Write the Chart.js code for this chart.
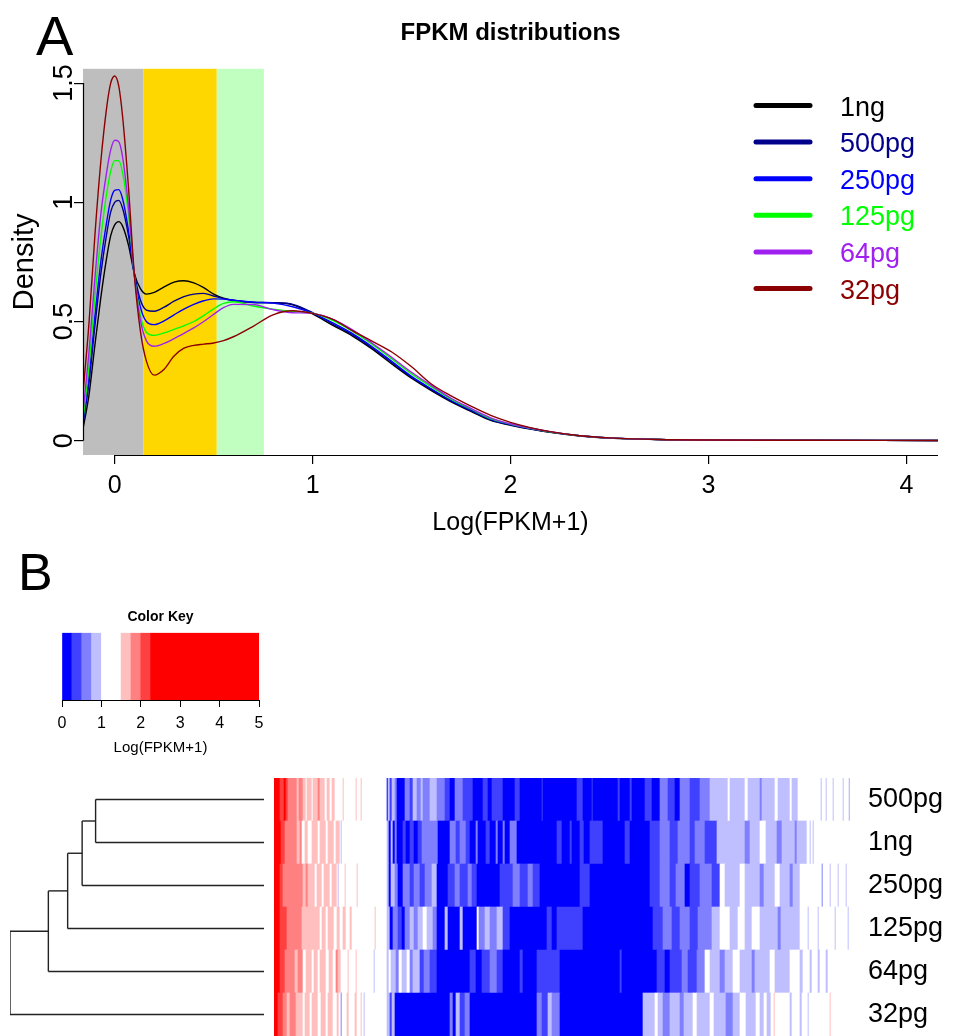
<!DOCTYPE html>
<html>
<head>
<meta charset="utf-8">
<title>FPKM distributions</title>
<script src="https://cdn.jsdelivr.net/npm/chart.js@4.4.1/dist/chart.umd.min.js"></script>
<style>
  html, body { margin: 0; padding: 0; background: #fff; }
  body { width: 957px; height: 1036px; position: relative; overflow: hidden; font-family: "Liberation Sans", Arial, Helvetica, sans-serif; }
  .box { position: absolute; }
  .tag { position: absolute; line-height: 1; color: #000; }
</style>
</head>
<body>
<div class="tag" style="left:36px; top:8px; font-size:56px;">A</div>
<div class="tag" style="left:18px; top:546px; font-size:52px;">B</div>
<div class="box" style="left:0; top:0; width:957px; height:560px;"><canvas id="densityChart"></canvas></div>
<div class="box" style="left:40px; top:605px; width:240px; height:153px;"><canvas id="keyChart"></canvas></div>
<div class="box" style="left:0; top:778px; width:274px; height:258px;"><canvas id="dendroChart"></canvas></div>
<div class="box" style="left:274px; top:778px; width:683px; height:258px;"><canvas id="heatChart"></canvas></div>

<script>
// ---- panel A: density curves ----
const xGrid = [-0.16, -0.13, -0.10, -0.07, -0.04, -0.02, 0, 0.02, 0.04, 0.07, 0.10, 0.13, 0.16, 0.20, 0.25, 0.30, 0.35, 0.40, 0.45, 0.50, 0.55, 0.60, 0.70, 0.80, 0.90, 1.00, 1.10, 1.20, 1.30, 1.40, 1.50, 1.60, 1.70, 1.80, 1.90, 2.00, 2.10, 2.20, 2.35, 2.50, 2.75, 3.00, 3.50, 4.16];

const dens1ng   = [0.05, 0.19, 0.40, 0.60, 0.77, 0.86, 0.905, 0.919, 0.90, 0.82, 0.70, 0.638, 0.615, 0.622, 0.645, 0.665, 0.671, 0.662, 0.642, 0.615, 0.598, 0.588, 0.580, 0.578, 0.570, 0.532, 0.485, 0.44, 0.385, 0.322, 0.262, 0.21, 0.163, 0.123, 0.085, 0.065, 0.049, 0.035, 0.02, 0.011, 0.005, 0.003, 0.002, 0.001];
const dens500pg = [0.07, 0.24, 0.48, 0.70, 0.87, 0.96, 1.0, 1.008, 0.975, 0.86, 0.70, 0.59, 0.548, 0.543, 0.56, 0.585, 0.604, 0.615, 0.618, 0.607, 0.596, 0.589, 0.581, 0.579, 0.572, 0.537, 0.49, 0.445, 0.39, 0.328, 0.266, 0.214, 0.166, 0.126, 0.088, 0.067, 0.05, 0.036, 0.021, 0.012, 0.005, 0.003, 0.002, 0.001];
const dens250pg = [0.08, 0.27, 0.52, 0.75, 0.92, 1.01, 1.05, 1.053, 1.015, 0.88, 0.69, 0.56, 0.50, 0.487, 0.503, 0.528, 0.552, 0.572, 0.587, 0.595, 0.594, 0.589, 0.581, 0.577, 0.562, 0.535, 0.495, 0.45, 0.395, 0.333, 0.27, 0.218, 0.169, 0.129, 0.09, 0.068, 0.051, 0.037, 0.021, 0.012, 0.005, 0.003, 0.002, 0.001];
const dens125pg = [0.09, 0.31, 0.60, 0.85, 1.04, 1.13, 1.175, 1.175, 1.125, 0.95, 0.69, 0.525, 0.455, 0.442, 0.452, 0.467, 0.482, 0.50, 0.525, 0.553, 0.576, 0.583, 0.565, 0.552, 0.542, 0.535, 0.505, 0.46, 0.405, 0.343, 0.28, 0.226, 0.174, 0.133, 0.093, 0.07, 0.052, 0.037, 0.021, 0.012, 0.005, 0.003, 0.002, 0.001];
const dens64pg  = [0.12, 0.37, 0.68, 0.95, 1.13, 1.22, 1.26, 1.255, 1.19, 0.98, 0.69, 0.505, 0.42, 0.396, 0.408, 0.428, 0.45, 0.473, 0.50, 0.53, 0.558, 0.572, 0.571, 0.55, 0.537, 0.534, 0.51, 0.466, 0.41, 0.35, 0.287, 0.232, 0.178, 0.136, 0.096, 0.071, 0.053, 0.038, 0.021, 0.012, 0.005, 0.003, 0.002, 0.001];
const dens32pg  = [0.20, 0.49, 0.86, 1.17, 1.40, 1.50, 1.53, 1.49, 1.36, 1.06, 0.69, 0.46, 0.335, 0.275, 0.30, 0.355, 0.388, 0.40, 0.405, 0.41, 0.42, 0.436, 0.48, 0.528, 0.545, 0.534, 0.51, 0.462, 0.418, 0.372, 0.31, 0.238, 0.188, 0.145, 0.106, 0.077, 0.055, 0.038, 0.021, 0.012, 0.005, 0.003, 0.002, 0.001];

const sampleNames = ['1ng', '500pg', '250pg', '125pg', '64pg', '32pg'];
const sampleColors = ['#000000', '#00008B', '#0000FF', '#00FF00', '#A020F0', '#8B0000'];
const densities = [dens1ng, dens500pg, dens250pg, dens125pg, dens64pg, dens32pg];

const xRange = [0, 4];
const yRange = [0, 1.5];
const xTicks = [0, 1, 2, 3, 4];
const yTicks = [0, 0.5, 1, 1.5];

// shaded expression classes (upper edges on the Log(FPKM+1) axis)
const bandEdges = [0.146, 0.516, 0.754];
const bandColors = ['#BEBEBE', '#FFD700', '#C1FFC1'];

// ---- panel B: colour key, dendrogram, heatmap ----
const keyBreaks = [0, 0.25, 0.5, 0.75, 1, 1.5, 1.75, 2, 2.25, 5];
const keyColors = ['#0000FF', '#4040FF', '#8080FF', '#BFBFFF', '#FFFFFF', '#FFBFBF', '#FF8080', '#FF4040', '#FF0000'];
const keyTicks = [0, 1, 2, 3, 4, 5];

const rowNames = ['500pg', '1ng', '250pg', '125pg', '64pg', '32pg'];
// merge heights, top-down agglomeration of the row order above
const dendroHeights = [0.663, 0.716, 0.773, 0.849, 1.0];
const nGenes = 576;

// runs of [Log(FPKM+1), number of genes], genes ordered left to right
const row500pg = [[3,6],[2.1,4],[3,2],[2.1,2],[1.9,9],[1.6,2],[1.9,4],[1.6,3],[1.2,1],[1.6,5],[1.2,1],[1.6,5],[1.9,2],[1.6,5],[1.2,2],[1.6,3],[1.2,2],[1.6,3],[1.2,8],[1.6,1],[1.2,12],[1.6,1],[1.2,4],[1.6,1],[1.2,25],
  [0.1,1],[0.9,2],[0.4,2],[0.9,3],[0.6,2],[0.1,8],[0.6,5],[0.4,3],[0.9,4],[0.6,4],[0.9,2],[0.6,7],[0.9,7],[0.6,8],[0.4,5],[0.1,5],[0.6,8],[0.4,10],[0.1,10],[0.4,5],[0.1,4],[0.4,11],[0.1,12],[0.4,5],[0.1,22],[0.4,1],[0.1,34],[0.4,6],[0.1,9],[0.4,1],[0.1,25],[0.4,2],[0.1,10],[0.4,2],[0.1,13],[0.4,7],[0.1,8],[0.6,8],[0.4,7],[0.1,5],[0.6,10],[0.4,10],[0.6,10],[0.9,18],[1.2,2],[0.9,15],[1.2,3],[0.9,12],[0.6,2],[0.9,13],[1.2,3],[0.9,12],[1.2,2],[0.9,6],[1.2,23],[0.9,1],[1.2,4],[0.9,1],[1.2,6],[0.9,1],[1.2,9],[0.9,1],[1.2,5],[0.9,1]];
const row1ng = [[3,7],[2.1,4],[1.9,12],[1.6,3],[1.9,2],[1.2,3],[1.6,3],[1.2,4],[1.6,6],[1.2,2],[1.6,6],[1.2,2],[1.6,6],[1.2,2],[1.6,4],[1.2,1],[0.9,1],[1.2,45],
  [0.9,2],[0.1,2],[0.9,2],[0.1,2],[0.6,2],[0.1,6],[0.4,3],[0.1,4],[0.4,4],[0.1,4],[0.4,4],[0.6,16],[0.1,12],[0.6,6],[0.4,4],[0.6,6],[0.4,4],[0.1,6],[0.6,2],[0.1,8],[0.4,4],[0.1,6],[0.6,2],[0.1,5],[0.6,2],[0.1,5],[0.6,7],[0.1,40],[0.4,5],[0.1,8],[0.4,2],[0.1,8],[0.4,4],[0.1,6],[0.4,13],[0.1,22],[0.4,5],[0.1,20],[0.4,10],[0.6,10],[0.4,8],[0.6,12],[0.4,5],[0.6,10],[0.4,12],[0.9,28],[0.6,5],[0.9,10],[1.2,6],[0.9,11],[0.6,5],[0.9,13],[0.6,2],[0.9,10],[1.2,3],[0.9,1],[1.2,2],[0.9,1],[1.2,36]];
const row250pg = [[3,6],[2.1,3],[1.9,20],[1.6,3],[1.9,2],[1.6,7],[1.2,2],[1.6,5],[1.2,2],[1.6,6],[1.2,2],[1.6,5],[1.2,1],[0.9,1],[1.2,6],[1.6,1],[1.2,11],[1.6,1],[1.2,29],
  [0.9,2],[0.1,2],[0.9,4],[0.6,3],[0.1,5],[0.6,7],[0.4,4],[0.6,6],[0.4,5],[0.6,7],[0.9,5],[0.1,11],[0.4,7],[0.6,5],[0.4,8],[0.6,4],[0.4,5],[0.1,23],[0.4,13],[0.6,7],[0.4,8],[0.6,5],[0.4,7],[0.1,40],[0.4,10],[0.1,60],[0.4,10],[0.6,10],[0.4,6],[0.6,9],[0.1,5],[0.4,10],[0.6,12],[0.4,8],[1.2,5],[0.9,15],[1.2,5],[0.9,15],[0.6,4],[0.9,11],[1.2,5],[0.9,10],[0.6,3],[0.9,7],[1.2,22],[0.6,1],[1.2,7],[0.9,1],[1.2,7],[0.9,1],[1.2,7],[0.9,1],[1.2,3]];
const row125pg = [[3,6],[2.1,7],[1.9,15],[1.6,18],[1.2,2],[1.6,4],[1.2,2],[1.6,6],[1.2,3],[1.6,3],[1.2,3],[1.6,3],[1.2,4],[1.6,2],[1.2,23],[1.6,1],[1.2,11],
  [0.9,3],[0.1,3],[0.6,5],[0.4,4],[0.1,3],[0.6,5],[0.9,4],[0.6,4],[0.9,5],[1.2,4],[0.9,6],[0.6,4],[0.1,8],[0.9,3],[0.1,12],[0.9,3],[0.1,14],[1.2,2],[0.6,6],[0.9,5],[0.6,7],[0.9,6],[0.4,7],[0.1,37],[0.4,5],[0.1,5],[0.4,26],[0.1,70],[0.4,10],[0.6,9],[0.4,8],[0.6,10],[0.4,8],[0.6,14],[0.9,8],[1.2,10],[0.9,8],[1.2,7],[0.9,7],[1.2,8],[0.9,18],[0.6,3],[0.9,19],[1.2,8],[0.9,1],[1.2,9],[0.9,1],[1.2,16],[0.9,1],[1.2,12],[0.9,1],[1.2,1]];
const row64pg = [[3,6],[2.1,5],[1.9,10],[1.6,3],[1.9,5],[1.2,3],[1.6,6],[1.2,2],[1.6,4],[1.2,2],[1.6,6],[1.2,3],[1.6,4],[1.2,3],[1.9,2],[1.6,3],[1.2,7],[1.6,1],[1.2,7],[1.6,1],[1.2,17],[0.9,1],[1.2,12],
  [0.9,2],[1.2,2],[0.9,5],[0.6,3],[1.2,3],[0.9,5],[1.2,3],[0.6,3],[0.9,7],[0.4,4],[0.6,6],[0.4,7],[0.1,33],[0.4,6],[0.1,6],[0.4,8],[0.6,7],[0.4,6],[0.1,17],[0.4,3],[0.1,14],[0.4,23],[0.1,60],[0.4,2],[0.1,35],[0.4,8],[0.1,5],[0.4,12],[0.6,6],[0.4,9],[0.6,8],[1.2,5],[0.9,10],[0.6,5],[0.9,8],[1.2,7],[0.9,12],[0.6,3],[0.9,15],[1.2,5],[0.9,15],[1.2,10],[0.9,3],[1.2,7],[0.9,2],[1.2,6],[0.9,2],[1.2,6],[0.9,2],[1.2,22]];
const row32pg = [[3,4],[2.1,5],[1.9,4],[1.6,3],[1.9,6],[1.6,7],[1.2,2],[1.6,5],[1.2,2],[1.6,6],[1.2,3],[1.6,5],[1.2,2],[1.6,5],[1.2,4],[1.6,2],[1.2,2],[0.6,1],[1.2,5],[1.6,2],[1.2,6],[1.6,2],[1.2,4],[1.6,1],[1.2,2],[0.9,1],[1.2,22],
  [0.9,3],[0.4,2],[0.9,3],[0.1,55],[0.6,3],[0.1,3],[0.9,4],[0.4,5],[0.6,5],[0.1,67],[0.6,5],[0.4,6],[0.9,4],[0.6,8],[0.1,83],[0.9,12],[1.2,3],[0.9,5],[0.6,7],[0.9,10],[0.6,4],[0.9,9],[1.2,4],[0.9,13],[1.2,4],[0.9,12],[0.6,7],[0.9,7],[1.2,6],[0.9,10],[1.2,4],[0.9,4],[1.2,3],[0.9,4],[1.2,3],[1.6,1],[1.2,15],[0.9,2],[1.2,8],[0.9,2],[1.2,6],[0.9,1],[1.2,21],[1.6,1],[1.2,19]];
const heatRows = [row500pg, row1ng, row250pg, row125pg, row64pg, row32pg];

const FONT = '"Liberation Sans", Arial, Helvetica, sans-serif';
Chart.defaults.font.family = FONT;
Chart.defaults.color = '#000';
Chart.defaults.animation = false;

function padRange(r) {
  const pad = (r[1] - r[0]) * 0.04;
  return [r[0] - pad, r[1] + pad];
}

function colorFor(v) {
  for (let i = 0; i < keyColors.length; i++) {
    if (v >= keyBreaks[i] && v < keyBreaks[i + 1]) return keyColors[i];
  }
  return keyColors[keyColors.length - 1];
}

const bandsPlugin = {
  id: 'bands',
  beforeDatasetsDraw(chart) {
    const { ctx, chartArea: a, scales: { x } } = chart;
    let from = x.min;
    ctx.save();
    bandEdges.forEach((edge, i) => {
      const x0 = x.getPixelForValue(from);
      const x1 = x.getPixelForValue(edge);
      ctx.fillStyle = bandColors[i];
      ctx.fillRect(x0, a.top, x1 - x0, a.bottom - a.top);
      from = edge;
    });
    ctx.restore();
  },
};

// R-style axis lines, rotated y labels and the in-plot legend
const densityDecor = {
  id: 'densityDecor',
  afterDraw(chart) {
    const { ctx, chartArea: a, scales: { x, y } } = chart;
    ctx.save();
    ctx.strokeStyle = '#000';
    ctx.lineWidth = 1.2;
    const by = Math.round(a.bottom) + 0.5;
    ctx.beginPath();
    ctx.moveTo(x.getPixelForValue(xTicks[0]), by);
    ctx.lineTo(a.right, by);
    const lx = Math.round(a.left) + 0.5;
    ctx.moveTo(lx, y.getPixelForValue(yTicks[0]));
    ctx.lineTo(lx, y.getPixelForValue(yTicks[yTicks.length - 1]));
    ctx.stroke();

    ctx.fillStyle = '#000';
    ctx.font = '27px ' + FONT;
    ctx.textAlign = 'center';
    ctx.textBaseline = 'alphabetic';
    yTicks.forEach((v) => {
      ctx.save();
      ctx.translate(a.left - 11, y.getPixelForValue(v));
      ctx.rotate(-Math.PI / 2);
      ctx.fillText(String(v), 0, 0);
      ctx.restore();
    });

    ctx.font = '27px ' + FONT;
    ctx.textAlign = 'left';
    ctx.lineCap = 'round';
    ctx.lineWidth = 5;
    sampleNames.forEach((name, i) => {
      const ly = a.top + 36.7 + i * 36.6;
      ctx.strokeStyle = sampleColors[i];
      ctx.beginPath();
      ctx.moveTo(a.right - 182, ly);
      ctx.lineTo(a.right - 128, ly);
      ctx.stroke();
      ctx.fillStyle = sampleColors[i];
      ctx.fillText(name, a.right - 98, ly + 10);
    });
    ctx.restore();
  },
};

const xLim = padRange(xRange);
const yLim = padRange(yRange);

new Chart(document.getElementById('densityChart'), {
  type: 'line',
  data: {
    datasets: sampleNames.map((name, i) => ({
      label: name,
      data: xGrid.map((x, j) => ({ x, y: densities[i][j] })),
      borderColor: sampleColors[i],
      borderWidth: 1.4,
      pointRadius: 0,
      cubicInterpolationMode: 'monotone',
      fill: false,
      order: sampleNames.length - i,
    })),
  },
  options: {
    responsive: true,
    maintainAspectRatio: false,
    layout: { padding: { right: 19 } },
    plugins: {
      legend: { display: false },
      tooltip: { enabled: false },
      title: {
        display: true,
        text: 'FPKM distributions',
        fullSize: false,
        color: '#000',
        font: { size: 24, weight: 'bold' },
        padding: { top: 19, bottom: 21 },
      },
    },
    scales: {
      x: {
        type: 'linear',
        min: xLim[0],
        max: xLim[1],
        afterBuildTicks: (s) => { s.ticks = xTicks.map((v) => ({ value: v })); },
        afterFit: (s) => { s.height = 105; },
        border: { display: false },
        grid: { drawOnChartArea: false, drawTicks: true, tickLength: 9, color: '#000', lineWidth: 1.2 },
        ticks: { font: { size: 25 }, color: '#000', padding: 7, maxRotation: 0, callback: (v) => String(v) },
        title: { display: true, text: 'Log(FPKM+1)', color: '#000', font: { size: 25 }, padding: { top: 0, bottom: 22 } },
      },
      y: {
        type: 'linear',
        min: yLim[0],
        max: yLim[1],
        afterBuildTicks: (s) => { s.ticks = yTicks.map((v) => ({ value: v })); },
        afterFit: (s) => { s.width = 83; },
        border: { display: false },
        grid: { drawOnChartArea: false, drawTicks: true, tickLength: 9, color: '#000', lineWidth: 1.2 },
        ticks: { display: false },
        title: { display: true, text: 'Density', color: '#000', font: { size: 29 }, padding: { top: 8, bottom: 8 } },
      },
    },
  },
  plugins: [bandsPlugin, densityDecor],
});

// colour key
new Chart(document.getElementById('keyChart'), {
  type: 'bar',
  data: {
    labels: ['key'],
    datasets: [{
      data: keyColors.map((c, i) => ({ x: [keyBreaks[i], keyBreaks[i + 1]], y: 'key' })),
      backgroundColor: keyColors,
      borderWidth: 0,
      barPercentage: 1,
      categoryPercentage: 1,
    }],
  },
  options: {
    indexAxis: 'y',
    responsive: true,
    maintainAspectRatio: false,
    layout: { padding: { left: 22, right: 21 } },
    plugins: {
      legend: { display: false },
      tooltip: { enabled: false },
      title: {
        display: true,
        text: 'Color Key',
        fullSize: false,
        color: '#000',
        font: { size: 14, weight: 'bold' },
        padding: { top: 4, bottom: 7 },
      },
    },
    scales: {
      y: { display: false },
      x: {
        type: 'linear',
        min: keyBreaks[0],
        max: keyBreaks[keyBreaks.length - 1],
        afterBuildTicks: (s) => { s.ticks = keyTicks.map((v) => ({ value: v })); },
        afterFit: (s) => { s.height = 58; },
        border: { display: true, color: '#000', width: 1 },
        grid: { drawOnChartArea: false, tickLength: 7, color: '#000' },
        ticks: { font: { size: 16 }, color: '#000', padding: 7, maxRotation: 0 },
        title: { display: true, text: 'Log(FPKM+1)', color: '#000', font: { size: 15 }, padding: { top: 2, bottom: 1 } },
      },
    },
  },
});

// row dendrogram, built from the merge heights
const segments = [];
let cluster = { y: 1, h: 0 };
dendroHeights.forEach((h, i) => {
  const leaf = i + 2;
  if (i === 0) segments.push([{ x: 0, y: 1 }, { x: h, y: 1 }]);
  else segments.push([{ x: cluster.h, y: cluster.y }, { x: h, y: cluster.y }]);
  segments.push([{ x: 0, y: leaf }, { x: h, y: leaf }]);
  segments.push([{ x: h, y: cluster.y }, { x: h, y: leaf }]);
  cluster = { y: (cluster.y + leaf) / 2, h };
});

new Chart(document.getElementById('dendroChart'), {
  type: 'scatter',
  data: {
    datasets: segments.map((seg) => ({
      data: seg,
      showLine: true,
      borderColor: '#222',
      borderWidth: 1.4,
      pointRadius: 0,
    })),
  },
  options: {
    responsive: true,
    maintainAspectRatio: false,
    layout: { padding: { left: 10, right: 10, top: 0, bottom: 0 } },
    plugins: { legend: { display: false }, tooltip: { enabled: false } },
    scales: {
      x: { type: 'linear', min: 0, max: dendroHeights[dendroHeights.length - 1], reverse: true, display: false },
      y: { type: 'linear', min: 0.5, max: rowNames.length + 0.5, reverse: true, display: false },
    },
  },
});

// heatmap cells as floating bars
const cells = [];
const cellColors = [];
heatRows.forEach((runs, r) => {
  let start = 0;
  runs.forEach(([v, n]) => {
    cells.push({ x: [start, start + n], y: rowNames[r] });
    cellColors.push(colorFor(v));
    start += n;
  });
});

new Chart(document.getElementById('heatChart'), {
  type: 'bar',
  data: {
    labels: rowNames,
    datasets: [{
      data: cells,
      backgroundColor: cellColors,
      borderWidth: 0,
      barPercentage: 1,
      categoryPercentage: 1,
    }],
  },
  options: {
    indexAxis: 'y',
    responsive: true,
    maintainAspectRatio: false,
    layout: { padding: 0 },
    plugins: { legend: { display: false }, tooltip: { enabled: false } },
    scales: {
      x: { type: 'linear', min: 0, max: nGenes, display: false },
      y: {
        position: 'right',
        afterFit: (s) => {
          s.width = 107;
          s.paddingTop = 0;
          s.paddingBottom = 0;
        },
        grid: { display: false, drawTicks: false },
        border: { display: false },
        ticks: { font: { size: 27 }, color: '#000', padding: 18 },
      },
    },
  },
});
</script>
</body>
</html>
